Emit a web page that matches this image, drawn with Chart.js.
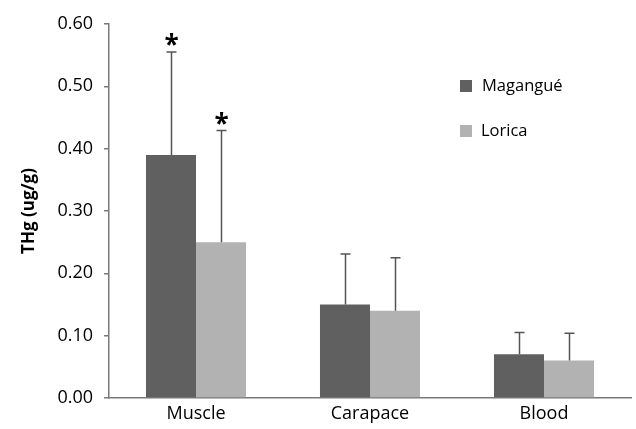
<!DOCTYPE html>
<html>
<head>
<meta charset="utf-8">
<script src="https://cdn.jsdelivr.net/npm/chart.js@4/dist/chart.umd.min.js"></script>
<style>
  html, body { margin: 0; padding: 0; background: #fff; }
  #wrap { width: 636px; height: 429px; position: relative; }
</style>
</head>
<body>
<div id="wrap"><canvas id="c" width="636" height="429"></canvas></div>
<script>
const categories = ["Muscle", "Carapace", "Blood"];
const seriesNames = ["Magangué", "Lorica"];
const maganguеValues = [0.39, 0.15, 0.07];
const loricaValues = [0.25, 0.14, 0.06];
const maganguеErrTop = [0.555, 0.231, 0.105];
const loricaErrTop = [0.429, 0.225, 0.104];
const maganguеStar = [true, false, false];
const loricaStar = [true, false, false];
const yTicks = [0, 0.1, 0.2, 0.3, 0.4, 0.5, 0.6];
const yTitle = "THg (ug/g)";

const colors = ["#606060", "#b2b2b2"];
const FONT = "'Open Sans', 'DejaVu Sans', sans-serif";

const errTops = [maganguеErrTop, loricaErrTop];
const stars = [maganguеStar, loricaStar];

const extrasPlugin = {
  id: 'extras',
  afterDatasetsDraw(chart) {
    const ctx = chart.ctx;
    const y = chart.scales.y;
    ctx.save();
    chart.data.datasets.forEach((ds, di) => {
      const meta = chart.getDatasetMeta(di);
      meta.data.forEach((bar, i) => {
        const x = Math.round(bar.x) + 0.5;
        const yTop = y.getPixelForValue(errTops[di][i]);
        const yBase = bar.y;
        ctx.strokeStyle = "#555555";
        ctx.lineWidth = 1.5;
        ctx.beginPath();
        ctx.moveTo(x, yBase);
        ctx.lineTo(x, yTop);
        ctx.moveTo(x - 5, yTop);
        ctx.lineTo(x + 5, yTop);
        ctx.stroke();
        if (stars[di][i]) {
          ctx.fillStyle = "#000";
          ctx.font = "bold 26px " + FONT;
          ctx.textAlign = "center";
          ctx.textBaseline = "alphabetic";
          ctx.fillText("*", x, yTop + 2);
        }
      });
    });
    // legend
    const items = [
      { label: seriesNames[0], color: colors[0], sx: 460, sy: 80, tx: 482, ty: 86 },
      { label: seriesNames[1], color: colors[1], sx: 460, sy: 125, tx: 481, ty: 131 }
    ];
    items.forEach(it => {
      ctx.fillStyle = it.color;
      ctx.fillRect(it.sx, it.sy, 12, 12);
      ctx.fillStyle = "#000";
      ctx.font = "16.5px " + FONT;
      ctx.textAlign = "left";
      ctx.textBaseline = "middle";
      ctx.fillText(it.label, it.tx, it.ty);
    });
    ctx.restore();
  }
};

new Chart(document.getElementById('c'), {
  type: 'bar',
  data: {
    labels: categories,
    datasets: [
      { label: seriesNames[0], data: maganguеValues, backgroundColor: colors[0], barPercentage: 1.0, categoryPercentage: 0.575 },
      { label: seriesNames[1], data: loricaValues, backgroundColor: colors[1], barPercentage: 1.0, categoryPercentage: 0.575 }
    ]
  },
  options: {
    responsive: false,
    animation: false,
    devicePixelRatio: 1,
    layout: { padding: { top: 24, right: 5, left: 19, bottom: 0 } },
    plugins: { legend: { display: false }, tooltip: { enabled: false } },
    scales: {
      x: {
        grid: { display: false, drawTicks: false },
        border: { display: true, color: '#7a7a7a', width: 1.5 },
        ticks: { color: '#000', font: { family: FONT, size: 18 }, padding: 5 },
        afterFit(s) { s.height = 31; }
      },
      y: {
        min: 0, max: 0.6,
        afterBuildTicks(s) { s.ticks = yTicks.map(v => ({ value: v })); },
        grid: { display: true, drawOnChartArea: false, drawTicks: true, tickLength: 5, color: '#7a7a7a', lineWidth: 1.5 },
        border: { display: true, color: '#7a7a7a', width: 1.5 },
        ticks: { color: '#000', font: { family: FONT, size: 18 }, padding: 11, callback: v => Number(v).toFixed(2) },
        title: { display: true, text: yTitle, color: '#000', font: { family: FONT, size: 17, weight: 'bold' }, padding: { top: 0, bottom: 8 } },
        afterFit(s) { s.width = 90; }
      }
    }
  },
  plugins: [extrasPlugin]
});
</script>
</body>
</html>
